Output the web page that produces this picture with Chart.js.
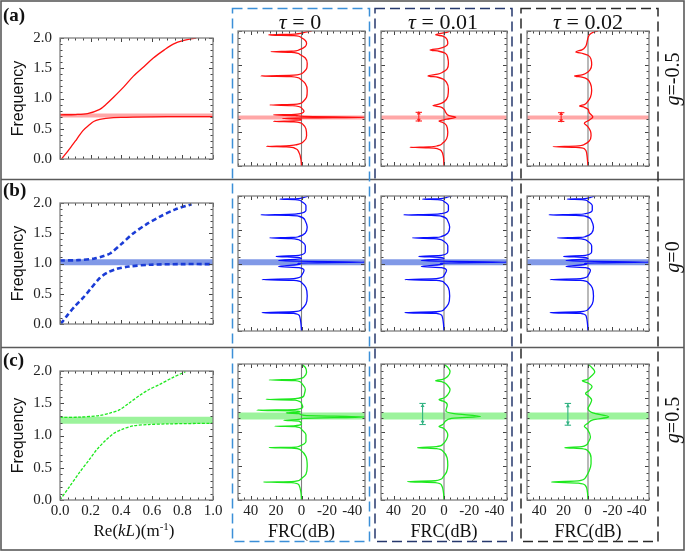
<!DOCTYPE html>
<html>
<head>
<meta charset="utf-8">
<script src="https://cdn.jsdelivr.net/npm/chart.js@4.4.1/dist/chart.umd.min.js"></script>
<style>
  body { margin: 0; background: #fff; }
  #wrap { position: relative; width: 685px; height: 552px; overflow: hidden; font-family: 'Liberation Serif', 'DejaVu Serif', serif; color: #111; }
  canvas.p { position: absolute; }
  .t { position: absolute; white-space: nowrap; line-height: 1; }
  .c { transform: translate(-50%, -50%); }
  .r { transform: translate(-50%, -50%) rotate(-90deg); }
</style>
</head>
<body>
<div id="wrap">
  <canvas id="deco" width="685" height="552" style="position:absolute;left:0;top:0"></canvas>
  <div class="t" style="left:3px;top:5px;font-size:19px;font-weight:bold">(a)</div>
  <div class="t" style="left:3px;top:180px;font-size:19px;font-weight:bold">(b)</div>
  <div class="t" style="left:3px;top:350px;font-size:19px;font-weight:bold">(c)</div>
  <div class="t c" style="left:300px;top:22px;font-size:22px"><i>τ</i> = 0</div>
  <div class="t c" style="left:443px;top:22px;font-size:22px"><i>τ</i> = 0.01</div>
  <div class="t c" style="left:588px;top:22px;font-size:22px"><i>τ</i> = 0.02</div>
  <div class="t r" style="left:672px;top:79px;font-size:20px"><i>g</i>=-0.5</div>
  <div class="t r" style="left:672px;top:257px;font-size:20px"><i>g</i>=0</div>
  <div class="t r" style="left:672px;top:420px;font-size:20px"><i>g</i>=0.5</div>
  <div class="t c" style="left:134px;top:530px;font-size:17px">Re(<i>kL</i>)(m<sup style="font-size:11px">-1</sup>)</div>
</div>
<script>
// ---- data ----
// dispersion branches: [Re(kL), frequency]
const lowerA = [[0.01,0],[0.065,0.175],[0.11,0.33],[0.15,0.47],[0.19,0.56],[0.22,0.62],[0.26,0.655],[0.30,0.672],[0.40,0.688],[0.60,0.697],[0.80,0.70],[1.0,0.70]];
const upperA = [[0,0.73],[0.10,0.735],[0.18,0.75],[0.26,0.82],[0.30,0.90],[0.35,1.02],[0.42,1.20],[0.48,1.37],[0.55,1.53],[0.61,1.67],[0.68,1.80],[0.74,1.90],[0.81,1.96],[0.89,2.0]];
const lowerB = [[0.005,0],[0.05,0.15],[0.10,0.30],[0.15,0.43],[0.20,0.58],[0.26,0.76],[0.31,0.85],[0.37,0.91],[0.45,0.95],[0.59,0.98],[0.80,0.99],[1.0,0.99]];
const upperB = [[0,1.05],[0.12,1.055],[0.22,1.08],[0.28,1.12],[0.33,1.17],[0.40,1.32],[0.48,1.50],[0.56,1.64],[0.65,1.77],[0.75,1.89],[0.86,1.98]];
const lowerC = [[0,0],[0.06,0.2],[0.13,0.435],[0.19,0.62],[0.24,0.78],[0.30,0.93],[0.35,1.03],[0.41,1.10],[0.48,1.15],[0.58,1.17],[0.70,1.18],[1.0,1.19]];
const upperC = [[0,1.28],[0.13,1.285],[0.26,1.31],[0.33,1.35],[0.39,1.40],[0.45,1.50],[0.52,1.62],[0.58,1.71],[0.65,1.79],[0.73,1.89],[0.82,1.99]];

// band frequencies for g = -0.5, 0, 0.5
const bandFreq = [0.72, 1.02, 1.235];

// FRC curves: [FRC (dB), frequency], top to bottom
const frcA0 = [[-8,2.0],[-3,1.985],[5,1.955],[26,1.942],[6,1.93],[0,1.90],[-3,1.86],[-4,1.82],[-3,1.77],[2,1.72],[8,1.70],[24,1.692],[8,1.683],[1,1.65],[-3,1.60],[-4.5,1.52],[-4,1.44],[-1,1.38],[6,1.345],[32,1.335],[8,1.325],[1,1.29],[-3,1.22],[-4.5,1.12],[-4,1.02],[-1,0.95],[6,0.912],[25,0.903],[7,0.895],[0,0.86],[-2,0.81],[0,0.78],[8,0.762],[22,0.756],[5,0.748],[-2,0.735],[-50,0.722],[-2,0.712],[15,0.703],[2,0.695],[0,0.68],[6,0.667],[22,0.66],[6,0.653],[-1,0.62],[-3.5,0.55],[-4,0.45],[-2,0.37],[4,0.315],[12,0.298],[27.5,0.29],[12,0.282],[5,0.26],[2,0.2],[0.5,0.1],[0,0.0]];
const frcA1 = [[-5,2.0],[-1,1.975],[6.6,1.945],[1,1.925],[-2.5,1.87],[-3,1.81],[-1,1.77],[4,1.74],[11,1.72],[4,1.70],[-1,1.67],[-3,1.60],[-3.5,1.52],[-2.5,1.44],[1,1.39],[5,1.36],[12.7,1.335],[5,1.315],[1,1.29],[-2,1.24],[-3.5,1.14],[-3,1.03],[0,0.95],[4,0.915],[8.7,0.895],[3,0.875],[0,0.84],[-1.5,0.79],[-4,0.745],[-9.3,0.722],[-4,0.70],[0,0.685],[4,0.665],[1,0.645],[-2,0.60],[-3,0.50],[-2,0.40],[1,0.34],[5,0.30],[12,0.284],[27,0.276],[12,0.268],[5,0.255],[2,0.22],[0.5,0.14],[0,0.0]];
const frcA2 = [[-8,2.0],[-4,1.98],[-1,1.94],[0.5,1.86],[2,1.77],[5,1.72],[10,1.69],[4,1.665],[0,1.64],[-2.5,1.58],[-3,1.50],[-1.5,1.42],[2,1.37],[5,1.35],[11,1.335],[5,1.315],[1,1.29],[-2,1.22],[-3,1.12],[-2,1.02],[0.5,0.95],[3,0.91],[7,0.89],[3,0.87],[0,0.84],[-1,0.79],[-4,0.725],[-1,0.68],[3,0.635],[0.5,0.59],[-2,0.52],[-2.5,0.45],[-1,0.37],[3,0.32],[10,0.295],[28.7,0.286],[10,0.277],[3,0.255],[1,0.18],[0,0.0]];
const frcB = [[-6,2.0],[-2,1.98],[5,1.958],[17,1.952],[5,1.946],[0,1.92],[-3.5,1.86],[-3.5,1.79],[2,1.74],[10,1.727],[32,1.72],[10,1.713],[2,1.70],[-3,1.63],[-4.5,1.54],[-3,1.45],[2,1.40],[8,1.385],[25,1.378],[8,1.37],[1,1.34],[-3,1.26],[-3,1.18],[2,1.12],[20,1.105],[3,1.09],[0,1.07],[18,1.045],[3,1.035],[-50,1.02],[3,1.005],[1,0.99],[18,0.955],[2,0.94],[-2,0.90],[0,0.82],[6,0.775],[31,0.762],[6,0.75],[0,0.72],[-3.5,0.64],[-4.5,0.52],[-3.5,0.40],[0,0.32],[6,0.285],[31,0.272],[6,0.26],[1.5,0.22],[0.5,0.12],[0,0.0]];
const frcC0 = [[0,2.0],[-3,1.95],[-4,1.88],[-2,1.81],[5,1.775],[25.5,1.764],[5,1.755],[0,1.72],[-3,1.63],[-2,1.54],[5,1.49],[28,1.479],[5,1.47],[0,1.42],[-1,1.37],[5,1.33],[35,1.321],[5,1.31],[1,1.295],[12,1.281],[2,1.27],[-2,1.245],[-50,1.222],[-2,1.20],[2,1.185],[14,1.173],[2,1.16],[0,1.12],[6,1.09],[21,1.085],[5,1.078],[0,1.04],[-3.5,0.96],[-3.5,0.86],[2,0.79],[8,0.775],[25.5,0.77],[8,0.765],[1,0.74],[-3.5,0.64],[-4.5,0.50],[-3.5,0.38],[1,0.30],[8,0.27],[30,0.263],[8,0.256],[2,0.22],[0.5,0.12],[0,0.0]];
const frcC1 = [[0,2.0],[-3,1.95],[-4.8,1.89],[-3,1.82],[1,1.775],[6.6,1.754],[1,1.735],[-3,1.68],[-4.8,1.62],[-3,1.55],[0,1.50],[4,1.473],[0,1.45],[-2.6,1.40],[-1.5,1.31],[-8,1.27],[-29,1.228],[-8,1.205],[-2,1.17],[1,1.11],[4,1.08],[1,1.06],[-2,1.01],[-3,0.957],[-2,0.89],[1,0.82],[6,0.785],[21,0.77],[6,0.755],[1,0.72],[-2.5,0.62],[-3,0.51],[-2,0.41],[1,0.33],[7,0.283],[29,0.269],[7,0.256],[2,0.22],[0.5,0.12],[0,0.0]];
const frcC2 = [[0,2.0],[-3,1.95],[-5.5,1.886],[-2,1.81],[1,1.77],[4.7,1.754],[0,1.72],[-3.3,1.665],[-1,1.61],[2,1.567],[-1,1.52],[-3,1.47],[-1.5,1.40],[0,1.346],[-4,1.28],[-17,1.222],[-4,1.18],[0,1.13],[3,1.085],[0.5,1.04],[-2,0.927],[0,0.84],[5,0.785],[19,0.77],[5,0.755],[0,0.72],[-2.5,0.62],[-2.5,0.534],[-1,0.43],[2,0.33],[8,0.28],[30,0.263],[8,0.248],[2,0.21],[0.5,0.12],[0,0.0]];

// double-arrow markers: [FRC (dB), lower freq, upper freq]
const arrowA1 = [20, 0.667, 0.795];
const arrowA2 = [22, 0.66, 0.79];
const arrowC1 = [17, 1.11, 1.42];
const arrowC2 = [16.5, 1.10, 1.42];

// tick labels
const kTicks = [0, 0.2, 0.4, 0.6, 0.8, 1.0];
const kTickLabels = ['0.0', '0.2', '0.4', '0.6', '0.8', '1.0'];
const fTicks = [0, 0.5, 1.0, 1.5, 2.0];
const fTickLabels = ['0.0', '0.5', '1.0', '1.5', '2.0'];
const frcTicks = [40, 20, 0, -20, -40];
const frcTickLabels = ['40', '20', '0', '-20', '-40'];

// ---- styling ----
const colX = [[60, 213], [238, 365], [381, 507], [527, 649]];
const rowY = [[31, 166], [196, 331], [364, 500]];
const rowStyle = [
  { line: '#ff1010', disp: { w: 1.3, dash: [] }, band: 'rgba(255,80,80,0.5)', bandW: 4, arrow: '#ff2020' },
  { line: '#0a10ff', disp: { w: 2.6, dash: [5, 3], color: '#1b3cd6' }, band: 'rgba(45,85,215,0.6)', bandW: 6, arrow: '#1b3cd6' },
  { line: '#1ee81e', disp: { w: 1.3, dash: [3, 1.5] }, band: 'rgba(90,235,90,0.6)', bandW: 7, arrow: '#33b383' }
];
const serif = "'Liberation Serif', 'Times New Roman', serif";

const xy = pts => pts.map(([x, y]) => ({ x, y }));

const wrap = document.getElementById('wrap');

// frame with small inward ticks on every side
const frameTicks = {
  id: 'frameTicks',
  afterDatasetsDraw(chart, args, o) {
    const { ctx, chartArea: a } = chart;
    const sx = chart.scales.x, sy = chart.scales.y;
    ctx.save();
    ctx.strokeStyle = '#444';
    ctx.lineWidth = 1;
    ctx.beginPath();
    for (let v = sx.min; v <= sx.max + 1e-9; v += o.xStep) {
      const px = Math.round(sx.getPixelForValue(v)) + 0.5;
      const len = Math.abs(v / o.xMajor - Math.round(v / o.xMajor)) < 1e-6 ? 4 : 2.5;
      ctx.moveTo(px, a.bottom); ctx.lineTo(px, a.bottom - len);
      ctx.moveTo(px, a.top); ctx.lineTo(px, a.top + len);
    }
    for (let v = sy.min; v <= sy.max + 1e-9; v += o.yStep) {
      const py = Math.round(sy.getPixelForValue(v)) + 0.5;
      const len = Math.abs(v / o.yMajor - Math.round(v / o.yMajor)) < 1e-6 ? 4 : 2.5;
      ctx.moveTo(a.left, py); ctx.lineTo(a.left + len, py);
      ctx.moveTo(a.right, py); ctx.lineTo(a.right - len, py);
    }
    ctx.stroke();
    ctx.strokeStyle = '#808080';
    ctx.lineWidth = 1.3;
    ctx.strokeRect(a.left, a.top, a.right - a.left, a.bottom - a.top);
    ctx.restore();
  }
};

function bandSet(r, x0, x1) {
  const s = rowStyle[r];
  return { data: xy([[x0, bandFreq[r]], [x1, bandFreq[r]]]), borderColor: s.band, borderWidth: s.bandW, pointRadius: 0, order: 5 };
}

function arrowSets(r, a) {
  if (!a) return [];
  const s = rowStyle[r];
  const [x, lo, hi] = a;
  const inset = (hi - lo) * 0.12;
  return [
    { data: xy([[x, hi], [x, lo]]), borderColor: s.arrow, borderWidth: 1.1, pointStyle: 'line',
      pointRadius: 3.2, pointBorderWidth: 1.1, pointBorderColor: s.arrow, order: 0 },
    { data: xy([[x, hi - inset], [x, lo + inset]]), showLine: false, pointStyle: 'triangle',
      pointRotation: [0, 180], pointRadius: 2.3, pointBackgroundColor: s.arrow, pointBorderWidth: 0, order: 0 }
  ];
}

const frcData = [[frcA0, frcA1, frcA2], [frcB, frcB, frcB], [frcC0, frcC1, frcC2]];
const arrows = [[null, arrowA1, arrowA2], [null, null, null], [null, arrowC1, arrowC2]];
const disp = [[lowerA, upperA], [lowerB, upperB], [lowerC, upperC]];

for (let r = 0; r < 3; r++) {
  for (let c = 0; c < 4; c++) {
    const [x0, x1] = colX[c], [y0, y1] = rowY[r];
    const showX = r === 2, showY = c === 0;
    const leftW = showY ? 58 : 12;
    const botH = showX ? 44 : 10;
    const cv = document.createElement('canvas');
    cv.className = 'p';
    cv.width = (x1 - x0) + leftW + 12;
    cv.height = (y1 - y0) + 10 + botH;
    cv.style.left = (x0 - leftW) + 'px';
    cv.style.top = (y0 - 10) + 'px';
    wrap.appendChild(cv);

    const s = rowStyle[r];
    const fixH = sc => { if (showX) sc.height = 44; };
    const fixW = sc => { if (showY) sc.width = 58; };
    let datasets, xScale, tickOpts;
    if (c === 0) {
      datasets = disp[r].map(d => ({
        data: xy(d), borderColor: s.disp.color || s.line, borderWidth: s.disp.w,
        borderDash: s.disp.dash, pointRadius: 0, order: 1
      }));
      datasets.push(bandSet(r, 0, 1));
      xScale = {
        type: 'linear', min: 0, max: 1, display: showX, position: 'bottom',
        grid: { display: false, drawTicks: false }, border: { display: false },
        afterBuildTicks: sc => { sc.ticks = kTicks.map(v => ({ value: v })); },
        afterFit: fixH,
        ticks: { autoSkip: false, maxRotation: 0, minRotation: 0, padding: 2, color: '#222',
          font: { family: serif, size: 15 }, callback: v => kTickLabels[kTicks.indexOf(v)] }
      };
      tickOpts = { xStep: 0.05, xMajor: 0.2, yStep: 0.1, yMajor: 0.5 };
    } else {
      datasets = [
        { data: xy(frcData[r][c - 1]), borderColor: s.line, borderWidth: 1.3, pointRadius: 0, order: 1,
          cubicInterpolationMode: 'monotone' },
        { data: xy([[0, 0], [0, 2]]), borderColor: '#808080', borderWidth: 1.1, pointRadius: 0, order: 2 },
        bandSet(r, -50, 50),
        ...arrowSets(r, arrows[r][c - 1])
      ];
      xScale = {
        type: 'linear', min: -50, max: 50, reverse: true, display: showX, position: 'bottom',
        grid: { display: false, drawTicks: false }, border: { display: false },
        afterBuildTicks: sc => { sc.ticks = frcTicks.map(v => ({ value: v })); },
        afterFit: fixH,
        ticks: { autoSkip: false, maxRotation: 0, minRotation: 0, padding: 2, color: '#222',
          font: { family: serif, size: 15 }, callback: v => frcTickLabels[frcTicks.indexOf(v)] },
        title: { display: true, text: 'FRC(dB)', color: '#111', font: { family: serif, size: 18 },
          padding: { top: 0, bottom: 1 } }
      };
      tickOpts = { xStep: 5, xMajor: 20, yStep: 0.1, yMajor: 0.5 };
    }

    new Chart(cv, {
      type: 'line',
      data: { datasets },
      options: {
        responsive: false,
        animation: false,
        indexAxis: c === 0 ? 'x' : 'y',
        layout: { padding: { left: showY ? 0 : 12, right: 12, top: 10, bottom: showX ? 0 : 10 } },
        elements: { line: { tension: 0.3, fill: false } },
        plugins: { legend: { display: false }, tooltip: { enabled: false }, frameTicks: tickOpts },
        scales: {
          x: xScale,
          y: {
            type: 'linear', min: 0, max: 2, display: showY, position: 'left',
            grid: { display: false, drawTicks: false }, border: { display: false },
            afterBuildTicks: sc => { sc.ticks = fTicks.map(v => ({ value: v })); },
            afterFit: fixW,
            ticks: { padding: 8, color: '#222', font: { family: serif, size: 15 },
              callback: v => fTickLabels[fTicks.indexOf(v)] },
            title: { display: true, text: 'Frequency', color: '#111',
              font: { family: "'Liberation Sans', Arial, sans-serif", size: 16 }, padding: { top: 7, bottom: 0 } }
          }
        }
      },
      plugins: [frameTicks]
    });
  }
}

// ---- figure frame, row separators and dashed column boxes ----
const d = document.getElementById('deco').getContext('2d');
d.strokeStyle = '#5a5a5a';
d.lineWidth = 1.6;
d.strokeRect(1, 1, 683, 549);
d.beginPath();
d.moveTo(1, 179.5); d.lineTo(684, 179.5);
d.moveTo(1, 347.5); d.lineTo(684, 347.5);
d.stroke();
d.lineWidth = 1.5;
d.setLineDash([10, 5]);
[[232.5, '#3b8fd8'], [375, '#26386e'], [521, '#2a2a2a']].forEach(([x, col]) => {
  d.strokeStyle = col;
  d.strokeRect(x, 8.5, 137, 533);
});
</script>
</body>
</html>
